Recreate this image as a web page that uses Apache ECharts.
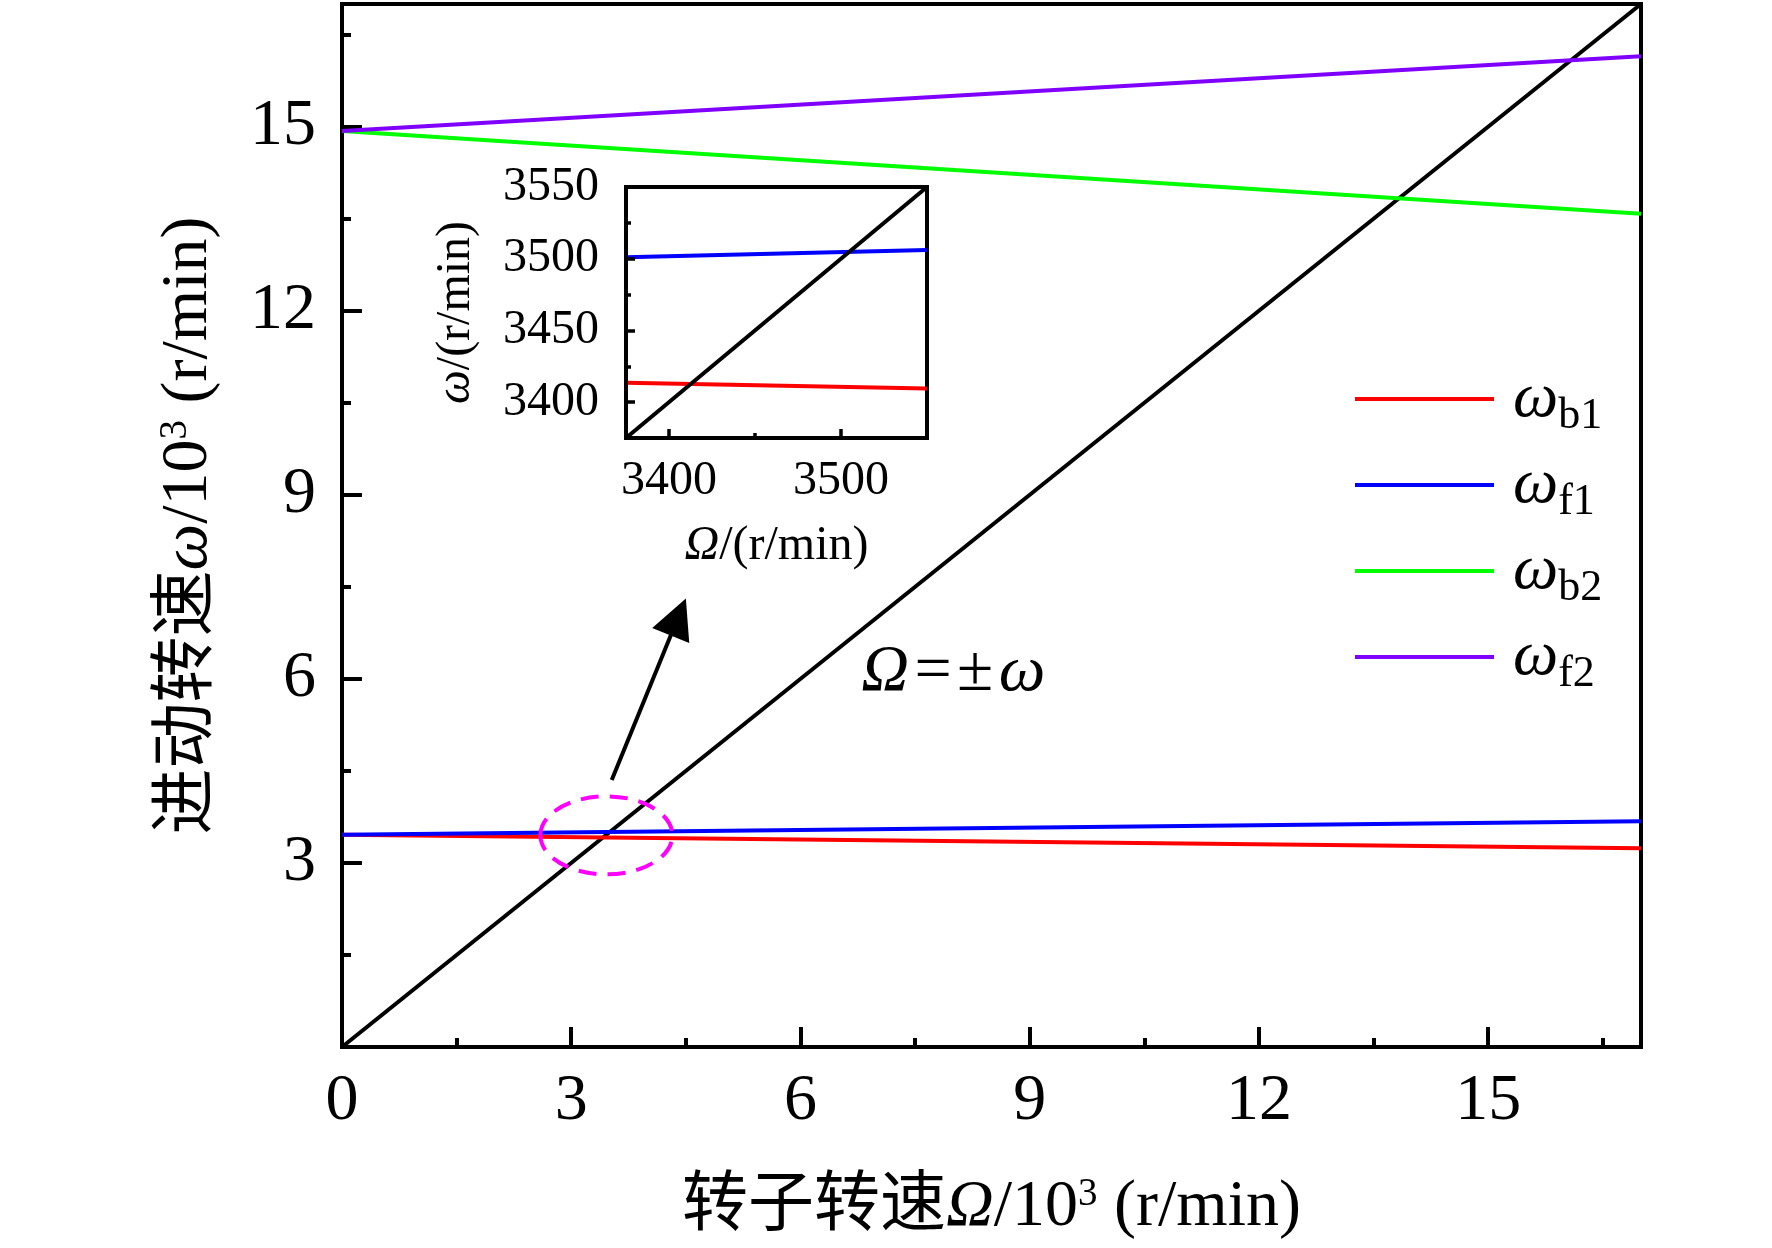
<!DOCTYPE html>
<html>
<head>
<meta charset="utf-8">
<script src="https://cdn.jsdelivr.net/npm/echarts@6/dist/echarts.min.js"></script>
<style>
html,body{margin:0;padding:0;background:#fff;}
#c{width:1772px;height:1248px;}
</style>
</head>
<body>
<div id="c"></div>
<script>
// ---------- data (main chart, units of 10^3 r/min) ----------
const rotorSpeed = [0, 17];            // Ω at the two ends of each straight curve
const omegaB1 = [3.46, 3.24];
const omegaF1 = [3.46, 3.68];
const omegaB2 = [14.93, 13.58];
const omegaF2 = [14.93, 16.15];
const diagonalLine = [0, 17];          // Ω = ±ω
const seriesNames = ['ωb1', 'ωf1', 'ωb2', 'ωf2'];
const seriesSubs = ['b1', 'f1', 'b2', 'f2'];
const xTickValues = [0, 3, 6, 9, 12, 15];
const yTickValues = [3, 6, 9, 12, 15];
const xMinorValues = [1.5, 4.5, 7.5, 10.5, 13.5, 16.5];
const yMinorValues = [1.5, 4.5, 7.5, 10.5, 13.5, 16.5];

// ---------- data (inset, r/min) ----------
const insetRotor = [3375, 3550];
const insetB1 = [3413.5, 3409.5];
const insetF1 = [3501, 3506];
const insetDiagonal = [3375, 3550];
const insetXTicks = [3400, 3500];
const insetXMinor = [3450];
const insetYTicks = [3400, 3450, 3500, 3550];
const insetYMinor = [3425, 3475, 3525];

// ---------- annotation anchors (data coordinates of main chart) ----------
const ellipseCenter = [3.46, 3.45];
const arrowFrom = [3.53, 4.35];
const arrowTo = [4.50, 7.31];
const relationLabelAt = [8.0, 6.1];

const F = "'Liberation Serif', 'Noto Sans CJK SC', serif";
const colors = ['#FF0000', '#0000FF', '#00FF00', '#7F00FF'];

function zip(xs, ys) { return xs.map((x, i) => [x, ys[i]]); }

const chart = echarts.init(document.getElementById('c'), null, {renderer: 'canvas'});

const nameStyle = {
  fontFamily: F, fontSize: 66, color: '#000', lineHeight: 66,
  rich: {
    i: {fontFamily: F, fontStyle: 'italic', fontSize: 66, lineHeight: 66, color: '#000'},
    sup: {fontFamily: F, fontSize: 39, lineHeight: 39, padding: [0, 0, 27, 0], color: '#000'}
  }
};
const insetNameStyle = {
  fontFamily: F, fontSize: 48, color: '#000', lineHeight: 48,
  rich: {
    i: {fontFamily: F, fontStyle: 'italic', fontSize: 48, lineHeight: 48, color: '#000'}
  }
};

function tickAxis(gridIndex, min, max, position, ticks, len, width, labelOpts, extra) {
  return Object.assign({
    type: 'value', gridIndex: gridIndex, min: min, max: max, position: position,
    axisLine: {show: !!labelOpts, onZero: false, lineStyle: {color: '#000', width: width}},
    axisTick: {show: true, inside: true, length: len, customValues: ticks,
               lineStyle: {color: '#000', width: width}},
    axisLabel: labelOpts ? Object.assign({show: true, color: '#000', fontFamily: F, customValues: ticks,
                                          formatter: (v) => String(v)}, labelOpts)
                         : {show: false},
    splitLine: {show: false},
    minorTick: {show: false}
  }, extra || {});
}

const mainData = [omegaB1, omegaF1, omegaB2, omegaF2];
const series = mainData.map((d, i) => ({
  name: seriesNames[i], type: 'line', xAxisIndex: 0, yAxisIndex: 0,
  data: zip(rotorSpeed, d), showSymbol: false, symbol: 'none',
  lineStyle: {color: colors[i], width: 4}, itemStyle: {color: colors[i]},
  z: 3
}));
series.push({
  name: 'Ω=±ω', type: 'line', xAxisIndex: 0, yAxisIndex: 0,
  data: zip(rotorSpeed, diagonalLine), showSymbol: false, symbol: 'none',
  lineStyle: {color: '#000', width: 4}, itemStyle: {color: '#000'}, z: 2
});
series.push({
  name: 'inset-b1', type: 'line', xAxisIndex: 2, yAxisIndex: 2,
  data: zip(insetRotor, insetB1), showSymbol: false, symbol: 'none',
  lineStyle: {color: colors[0], width: 4}, z: 5
});
series.push({
  name: 'inset-f1', type: 'line', xAxisIndex: 2, yAxisIndex: 2,
  data: zip(insetRotor, insetF1), showSymbol: false, symbol: 'none',
  lineStyle: {color: colors[1], width: 4}, z: 5
});
series.push({
  name: 'inset-diag', type: 'line', xAxisIndex: 2, yAxisIndex: 2,
  data: zip(insetRotor, insetDiagonal), showSymbol: false, symbol: 'none',
  lineStyle: {color: '#000', width: 4}, z: 5
});

const option = {
  backgroundColor: '#fff',
  animation: false,
  grid: [
    {left: 342, top: 4, width: 1299, height: 1043, show: true, borderColor: '#000', borderWidth: 4, backgroundColor: 'transparent'},
    {left: 626, top: 187, width: 301, height: 251, show: true, borderColor: '#000', borderWidth: 4, backgroundColor: '#fff', z: 4}
  ],
  xAxis: [
    tickAxis(0, 0, 17, 'bottom', xTickValues, 20, 4, {fontSize: 66, margin: 22}, {
      name: '转子转速{i|Ω}/10{sup|3} (r/min)', nameLocation: 'middle', nameGap: 128, nameTextStyle: nameStyle
    }),
    tickAxis(0, 0, 17, 'bottom', xMinorValues, 9, 4, null),
    tickAxis(1, 3375, 3550, 'bottom', insetXTicks, 9, 3.5, {fontSize: 48, margin: 19}, {
      name: '{i|Ω}/(r/min)', nameLocation: 'middle', nameGap: 84, nameTextStyle: insetNameStyle, z: 6
    }),
    tickAxis(1, 3375, 3550, 'bottom', insetXMinor, 5, 3.5, null, {z: 6})
  ],
  yAxis: [
    tickAxis(0, 0, 17, 'left', yTickValues, 20, 4, {fontSize: 66, margin: 26}, {
      name: '进动转速{i|ω}/10{sup|3} (r/min)', nameLocation: 'middle', nameGap: 120, nameRotate: 90, nameTextStyle: nameStyle
    }),
    tickAxis(0, 0, 17, 'left', yMinorValues, 9, 4, null),
    tickAxis(1, 3375, 3550, 'left', insetYTicks, 9, 3.5, {fontSize: 48, margin: 27}, {
      name: '{i|ω}/(r/min)', nameLocation: 'middle', nameGap: 146, nameRotate: 90, nameTextStyle: insetNameStyle, z: 6
    }),
    tickAxis(1, 3375, 3550, 'left', insetYMinor, 5, 3.5, null, {z: 6})
  ],
  legend: {
    data: seriesNames,
    orient: 'vertical',
    left: 1355, top: 360, padding: 0,
    icon: 'rect', itemWidth: 139, itemHeight: 4, itemGap: 8,
    selectedMode: false,
    formatter: function (name) { return '{w|ω}{s|' + seriesSubs[seriesNames.indexOf(name)] + '}'; },
    textStyle: {
      fontFamily: F, color: '#000', fontSize: 64,
      rich: {
        w: {fontFamily: F, fontStyle: 'italic', fontSize: 64, lineHeight: 60, padding: [0, 0, 0, 14], color: '#000'},
        s: {fontFamily: F, fontSize: 44, lineHeight: 44, padding: [34, 0, 0, 0], color: '#000'}
      }
    }
  },
  series: series
};

chart.setOption(option);

// ---------- annotations placed through the main axes ----------
const P = (pt) => chart.convertToPixel({xAxisIndex: 0, yAxisIndex: 0}, pt);
const ec = P(ellipseCenter);
const a0 = P(arrowFrom), a1 = P(arrowTo);
const dx = a1[0] - a0[0], dy = a1[1] - a0[1];
const L = Math.hypot(dx, dy), ux = dx / L, uy = dy / L, px = -uy, py = ux;
const headLen = 40, headHalf = 20;
const base = [a1[0] - ux * headLen, a1[1] - uy * headLen];
const lp = P(relationLabelAt);

chart.setOption({
  graphic: [
    {type: 'ellipse', z: 50, shape: {cx: ec[0], cy: ec[1], rx: 66, ry: 39},
     style: {fill: 'none', stroke: '#FF00FF', lineWidth: 4, lineDash: [18, 11]}},
    {type: 'line', z: 50, shape: {x1: a0[0], y1: a0[1], x2: base[0] + ux * 4, y2: base[1] + uy * 4},
     style: {stroke: '#000', lineWidth: 4}},
    {type: 'polygon', z: 50, shape: {points: [a1,
       [base[0] + px * headHalf, base[1] + py * headHalf],
       [base[0] - px * headHalf, base[1] - py * headHalf]]},
     style: {fill: '#000'}},
    {type: 'text', z: 50, x: lp[0], y: lp[1],
     style: {text: '{i|Ω}{n|\u200A=\u200A±\u200A}{i|ω}', align: 'center', verticalAlign: 'middle',
       fontFamily: F, fontSize: 66, fill: '#000',
       rich: {
         i: {fontFamily: F, fontStyle: 'italic', fontSize: 66, fill: '#000'},
         n: {fontFamily: F, fontSize: 66, fill: '#000'}
       }}}
  ]
});
</script>
</body>
</html>
